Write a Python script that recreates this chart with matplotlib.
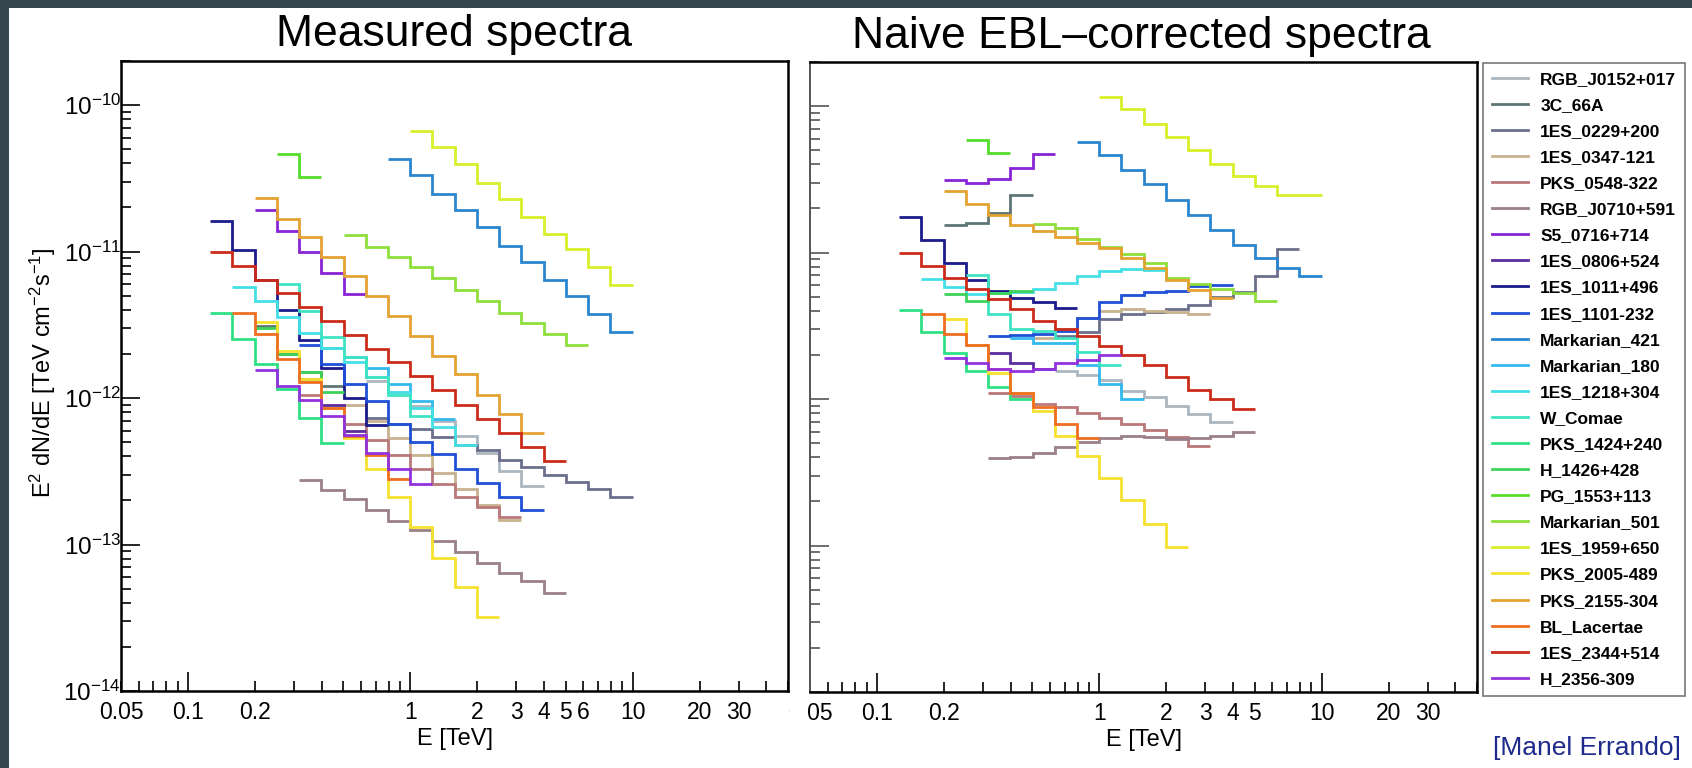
import numpy as np
import matplotlib
matplotlib.use("Agg")
import matplotlib.pyplot as plt
from matplotlib.patches import Rectangle
from matplotlib.lines import Line2D
from matplotlib import ticker

plt.rcParams['font.family'] = ['Liberation Sans', 'DejaVu Sans']
plt.rcParams['mathtext.default'] = 'regular'
plt.rcParams['axes.unicode_minus'] = False

# sources, legend order
sources = ['RGB_J0152+017', '3C_66A', '1ES_0229+200', '1ES_0347-121', 'PKS_0548-322',
           'RGB_J0710+591', 'S5_0716+714', '1ES_0806+524', '1ES_1011+496', '1ES_1101-232',
           'Markarian_421', 'Markarian_180', '1ES_1218+304', 'W_Comae', 'PKS_1424+240',
           'H_1426+428', 'PG_1553+113', 'Markarian_501', '1ES_1959+650', 'PKS_2005-489',
           'PKS_2155-304', 'BL_Lacertae', '1ES_2344+514', 'H_2356-309']
colors = ['#aab7c1', '#5e7576', '#6b6f8c', '#c9b28e', '#b9787a',
          '#9a8088', '#8a22d6', '#5a2d9c', '#1c1c8c', '#1f50d6',
          '#2a86cf', '#33b9ee', '#45e0e6', '#3ee3c3', '#2fe184',
          '#3fd25a', '#55dd2c', '#8fdf3c', '#d8ef2a', '#f6e22e',
          '#e4a232', '#ee6f22', '#cd2b1a', '#9232de']

# first bin of each spectrum, bins are 0.1 in log10(E/TeV): bin k spans 10^(k/10)..10^((k+1)/10)
meas_start = [-2, -7, -2, -3, -5, -5, -7, -5, -9, -5, -1, -4, -8, -6, -9, -7, -6, -3, 0, -7, -7, -8, -9, -7]
corr_start = [-2, -7, -2, -3, -5, -5, -7, -5, -9, -5, -1, -4, -8, -6, -9, -7, -6, -3, 0, -7, -7, -8, -9, -7]

# measured E^2 dN/dE [TeV cm^-2 s^-1]
measured = [
    [1.30e-12, 1.10e-12, 8.8e-13, 7.0e-13, 5.5e-13, 4.2e-13, 3.2e-13, 2.5e-13],
    [3.1e-12, 2.0e-12, 1.5e-12, 1.2e-12],
    [7.3e-13, 6.7e-13, 6.1e-13, 5.4e-13, 4.8e-13, 4.4e-13, 3.8e-13, 3.36e-13, 3.0e-13, 2.68e-13, 2.39e-13, 2.11e-13],
    [9.0e-13, 7.0e-13, 5.3e-13, 4.1e-13, 3.1e-13, 2.4e-13, 1.85e-13, 1.48e-13],
    [1.05e-12, 8.5e-13, 6.6e-13, 5.2e-13, 4.1e-13, 3.3e-13, 2.6e-13, 2.1e-13, 1.8e-13, 1.55e-13],
    [2.75e-13, 2.35e-13, 2.04e-13, 1.71e-13, 1.45e-13, 1.25e-13, 1.06e-13, 8.95e-14, 7.5e-14, 6.4e-14, 5.6e-14, 4.7e-14],
    [1.92e-11, 1.38e-11, 9.9e-12, 7.1e-12, 5.1e-12],
    [1.35e-12, 9.0e-13, 6.0e-13],
    [1.61e-11, 1.02e-11, 6.4e-12, 4.0e-12, 2.5e-12, 1.6e-12, 1.0e-12, 6.5e-13],
    [2.3e-12, 1.7e-12, 1.25e-12, 9.5e-13, 6.6e-13, 5.0e-13, 4.15e-13, 3.26e-13, 2.64e-13, 2.11e-13, 1.71e-13],
    [4.30e-11, 3.31e-11, 2.49e-11, 1.92e-11, 1.46e-11, 1.10e-11, 8.47e-12, 6.36e-12, 4.95e-12, 3.76e-12, 2.83e-12],
    [2.2e-12, 1.9e-12, 1.6e-12, 1.25e-12, 9.5e-13, 7.2e-13],
    [5.7e-12, 4.6e-12, 3.6e-12, 2.8e-12, 2.2e-12, 1.75e-12, 1.4e-12, 1.1e-12, 8.5e-13, 6.3e-13, 4.8e-13],
    [6.0e-12, 3.9e-12, 2.6e-12, 1.9e-12, 1.4e-12, 1.05e-12, 7.5e-13],
    [3.81e-12, 2.54e-12, 1.70e-12, 1.15e-12, 7.3e-13, 4.9e-13],
    [3.0e-12, 2.0e-12, 1.5e-12, 1.1e-12],
    [4.60e-11, 3.23e-11],
    [1.30e-11, 1.08e-11, 9.25e-12, 7.83e-12, 6.60e-12, 5.50e-12, 4.58e-12, 3.81e-12, 3.23e-12, 2.72e-12, 2.29e-12],
    [6.70e-11, 5.21e-11, 3.94e-11, 2.96e-11, 2.27e-11, 1.73e-11, 1.31e-11, 1.04e-11, 7.79e-12, 5.94e-12],
    [3.3e-12, 2.1e-12, 1.35e-12, 8.5e-13, 5.3e-13, 3.3e-13, 2.1e-13, 1.31e-13, 8.1e-14, 5.15e-14, 3.2e-14],
    [2.33e-11, 1.68e-11, 1.25e-11, 9.24e-12, 6.76e-12, 4.95e-12, 3.62e-12, 2.65e-12, 1.94e-12, 1.46e-12, 1.05e-12, 7.77e-13, 5.75e-13],
    [3.8e-12, 2.75e-12, 1.85e-12, 1.28e-12, 8.5e-13, 5.5e-13, 4.1e-13, 2.8e-13],
    [1.0e-11, 8.0e-12, 6.4e-12, 5.2e-12, 4.2e-12, 3.35e-12, 2.7e-12, 2.17e-12, 1.75e-12, 1.42e-12, 1.13e-12, 9.0e-13, 7.2e-13, 5.75e-13, 4.66e-13, 3.73e-13],
    [1.56e-12, 1.2e-12, 9.7e-13, 7.5e-13, 5.6e-13, 4.2e-13, 3.3e-13, 2.6e-13],
]

# naive EBL-corrected E^2 dN/dE
corrected = [
    [1.55e-12, 1.45e-12, 1.35e-12, 1.14e-12, 1.03e-12, 9.0e-13, 7.9e-13, 7.0e-13],
    [1.54e-11, 1.58e-11, 1.85e-11, 2.49e-11],
    [2.7e-12, 2.85e-12, 3.5e-12, 3.8e-12, 3.9e-12, 4.1e-12, 4.4e-12, 5.0e-12, 5.4e-12, 6.9e-12, 1.05e-11],
    [2.6e-12, 3.0e-12, 3.6e-12, 4.0e-12, 4.1e-12, 4.0e-12, 3.9e-12, 3.8e-12],
    [1.1e-12, 1.05e-12, 9.2e-13, 8.8e-13, 8.0e-13, 7.4e-13, 6.8e-13, 6.1e-13, 5.5e-13, 4.8e-13],
    [3.97e-13, 4.05e-13, 4.3e-13, 4.7e-13, 5.1e-13, 5.4e-13, 5.6e-13, 5.5e-13, 5.35e-13, 5.4e-13, 5.6e-13, 6.0e-13],
    [3.12e-11, 2.99e-11, 3.17e-11, 3.75e-11, 4.69e-11],
    [2.07e-12, 1.75e-12, 1.6e-12],
    [1.76e-11, 1.21e-11, 8.55e-12, 6.52e-12, 5.5e-12, 4.9e-12, 4.6e-12, 4.2e-12],
    [2.7e-12, 2.75e-12, 2.8e-12, 2.9e-12, 3.6e-12, 4.6e-12, 5.1e-12, 5.4e-12, 5.5e-12, 5.9e-12, 6.0e-12],
    [5.69e-11, 4.62e-11, 3.65e-11, 2.96e-11, 2.28e-11, 1.80e-11, 1.43e-11, 1.13e-11, 9.14e-12, 7.81e-12, 6.94e-12],
    [2.6e-12, 2.42e-12, 2.4e-12, 1.7e-12, 1.27e-12, 1.0e-12],
    [6.6e-12, 5.8e-12, 5.2e-12, 5.3e-12, 5.4e-12, 5.6e-12, 6.2e-12, 6.9e-12, 7.5e-12, 7.7e-12, 7.6e-12],
    [7.0e-12, 3.8e-12, 3.0e-12, 2.9e-12, 2.6e-12, 2.1e-12, 1.7e-12],
    [4.07e-12, 2.86e-12, 2.07e-12, 1.55e-12, 1.2e-12, 1.0e-12],
    [5.2e-12, 4.7e-12, 5.3e-12, 5.5e-12],
    [5.90e-11, 4.79e-11],
    [1.57e-11, 1.46e-11, 1.23e-11, 1.10e-11, 9.8e-12, 8.46e-12, 6.68e-12, 6.1e-12, 5.6e-12, 5.3e-12, 4.64e-12],
    [1.15e-10, 9.6e-11, 7.6e-11, 6.15e-11, 4.99e-11, 4.01e-11, 3.32e-11, 2.84e-11, 2.49e-11, 2.49e-11],
    [3.5e-12, 2.35e-12, 1.5e-12, 1.1e-12, 8.3e-13, 5.6e-13, 4.06e-13, 2.9e-13, 2.03e-13, 1.40e-13, 9.7e-14],
    [2.63e-11, 2.14e-11, 1.80e-11, 1.54e-11, 1.40e-11, 1.27e-11, 1.17e-11, 1.07e-11, 9.14e-12, 7.81e-12, 6.52e-12, 5.57e-12, 4.89e-12],
    [3.8e-12, 2.8e-12, 2.35e-12, 1.6e-12, 1.1e-12, 8.8e-13, 6.75e-13, 5.4e-13],
    [1.0e-11, 8.1e-12, 6.7e-12, 5.6e-12, 4.8e-12, 4.1e-12, 3.4e-12, 3.0e-12, 2.7e-12, 2.3e-12, 2.0e-12, 1.7e-12, 1.41e-12, 1.15e-12, 1.0e-12, 8.5e-13],
    [1.9e-12, 1.75e-12, 1.6e-12, 1.55e-12, 1.6e-12, 1.75e-12, 1.85e-12, 2.0e-12],
]

W, H = 1692, 768
fig = plt.figure(figsize=(W / 100, H / 100), dpi=100, facecolor='#37474f')
fig.add_artist(Rectangle((9 / W, 0), 1, 1 - 8 / H, transform=fig.transFigure,
                         facecolor='white', edgecolor='none', zorder=-10))

ax1 = fig.add_axes([121 / W, 1 - 691 / H, 667 / W, 630 / H])
ax2 = fig.add_axes([810 / W, 1 - 692 / H, 667 / W, 630 / H])


def xlab(v, pos, shown):
    for s in shown:
        if abs(v - s) < 1e-6 * s:
            return ('%g' % s)
    return ''


for ax, starts, data, shown in [(ax1, meas_start, measured, [0.05, 0.2, 2, 3, 4, 5, 6, 20, 30]),
                                (ax2, corr_start, corrected, [0.05, 0.2, 2, 3, 4, 5, 20, 30])]:
    for k0, vals, c in zip(starts, data, colors):
        edges = 10 ** (np.arange(k0, k0 + len(vals) + 1) / 10.0)
        ax.stairs(vals, edges, baseline=None, color=c, lw=2)
    ax.set_xscale('log')
    ax.set_yscale('log')
    ax.set_xlim(0.05, 50)
    ax.set_ylim(1e-14, 2e-10)
    ax.xaxis.set_major_locator(ticker.FixedLocator([0.1, 1, 10]))
    ax.xaxis.set_major_formatter(ticker.FixedFormatter(['0.1', '1', '10']))
    ax.xaxis.set_minor_locator(ticker.LogLocator(base=10, subs=np.arange(2, 10), numticks=20))
    ax.xaxis.set_minor_formatter(ticker.FuncFormatter(lambda v, p, s=shown: xlab(v, p, s)))
    ax.yaxis.set_major_locator(ticker.LogLocator(base=10, numticks=20))
    ax.yaxis.set_minor_locator(ticker.LogLocator(base=10, subs=np.arange(2, 10), numticks=20))
    ax.yaxis.set_minor_formatter(ticker.NullFormatter())
    ax.tick_params(which='both', direction='in', top=False, right=False, width=1.2)
    ax.tick_params(which='major', length=14)
    ax.tick_params(which='minor', length=7.5)
    ax.tick_params(axis='x', which='both', labelsize=16.5, pad=7)
    ax.tick_params(axis='y', which='both', labelsize=17.5, pad=0)
    for sp in ax.spines.values():
        sp.set_linewidth(1.8)
    ax.set_xlabel('E [TeV]', fontsize=17)
    ax.xaxis.set_label_coords(0.5, -0.058)

ax1.set_ylabel('E$^{2}$ dN/dE [TeV cm$^{-2}$s$^{-1}$]', fontsize=17)
ax1.yaxis.set_label_coords(-0.095, 0.505)
ax2.tick_params(axis='y', which='both', labelleft=False, color='#555555')
ax2.spines['left'].set_color('#555555')
ax2.spines['left'].set_linewidth(1.4)

# the right pad clips the start of its own "0.05" label
fig.add_artist(Rectangle((790 / W, 1 - 728 / H), 16 / W, 32 / H, transform=fig.transFigure,
                         facecolor='white', edgecolor='none', zorder=5))

fig.text(454 / W, 1 - 46 / H, 'Measured spectra', fontsize=32, ha='center', va='baseline')
fig.text(1141 / W, 1 - 48 / H, 'Naive EBL\u2013corrected spectra', fontsize=32, ha='center', va='baseline')

handles = [Line2D([], [], color=c, lw=2) for c in colors]
leg = fig.legend(handles, sources, loc='upper left', bbox_to_anchor=(1483 / W, 1 - 63 / H),
                 borderaxespad=0, prop={'size': 12.5, 'weight': 'bold'}, fancybox=False,
                 edgecolor='#777777', framealpha=1, handlelength=2.1, handletextpad=0.7,
                 labelspacing=0.63, borderpad=0.5)
leg.get_frame().set_linewidth(1.2)

fig.text(1681 / W, 1 - 748 / H, '[Manel Errando]', fontsize=19, color='#1e2a8c', ha='right', va='center')

fig.savefig('out.png', dpi=100, facecolor=fig.get_facecolor())
